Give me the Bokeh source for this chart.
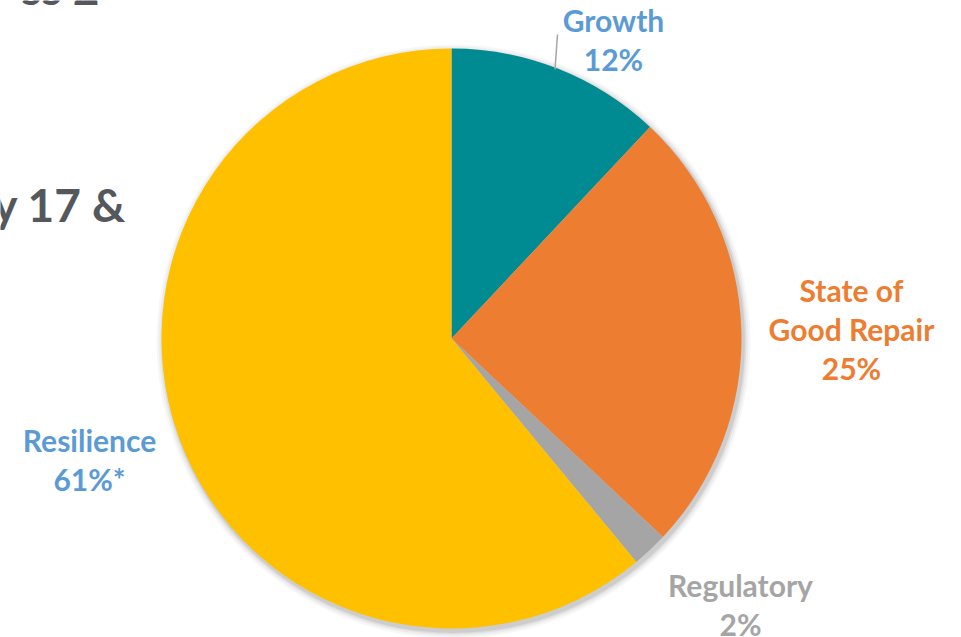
import math
from bokeh.plotting import figure
from bokeh.models import Range1d
from bokeh.core.properties import value
from bokeh.embed import file_html
from bokeh.resources import INLINE

# ---- data ----
categories = ["Growth", "State of\nGood Repair", "Regulatory", "Resilience"]
percents = [12, 25, 2, 61]
pct_labels = ["12%", "25%", "2%", "61%*"]
slice_colors = ["#008A92", "#ED7D31", "#A5A5A5", "#FFC000"]
label_colors = ["#5B9BD5", "#ED7D31", "#A5A5A5", "#5B9BD5"]

# ---- layout (pixels from top-left) ----
W, H = 961, 637
cx, cy, R = 451, 338, 290
label_pos = [(613, 39), (851, 328), (740, 604), (89, 459)]
line_gap = 39

def Y(py):
    return H - py

p = figure(width=W, height=H, output_backend="svg", toolbar_location=None,
           x_range=Range1d(0, W), y_range=Range1d(0, H),
           min_border=0, outline_line_color=None)
p.axis.visible = False
p.grid.visible = False
p.background_fill_color = "white"
p.border_fill_color = "white"

# soft shadow
for dr, a in [(7, 0.03), (5, 0.04), (3, 0.06), (1.5, 0.08)]:
    p.circle(x=[cx + 2], y=[Y(cy + 3)], radius=R + dr, fill_color="black",
             fill_alpha=a, line_color=None)

total = sum(percents)
cum = 0.0
starts, ends = [], []
for v in percents:
    s = math.pi / 2 - 2 * math.pi * cum / total
    cum += v
    e = math.pi / 2 - 2 * math.pi * cum / total
    starts.append(s)
    ends.append(e)

p.wedge(x=[cx] * len(percents), y=[Y(cy)] * len(percents), radius=R,
        start_angle=starts, end_angle=ends, direction="clock",
        fill_color=slice_colors, line_color=None)

# leader line for Growth
p.segment(x0=[557], y0=[Y(34)], x1=[554.5], y1=[Y(69)], line_color="#A6A6A6", line_width=1.5)

# labels
for cat, pl, col, (lx, ly) in zip(categories, pct_labels, label_colors, label_pos):
    lines = cat.split("\n") + [pl]
    n = len(lines)
    for i, t in enumerate(lines):
        yy = ly + (i - (n - 1) / 2) * line_gap
        p.text(x=[lx], y=[Y(yy)], text=[t], text_align="center", text_baseline="middle",
               text_font=value("Lato"), text_font_style="bold", text_font_size="30px",
               text_color=col)

# clipped slide title fragments
p.text(x=[126], y=[Y(204)], text=["y 17 &"], text_align="right", text_baseline="alphabetic",
       text_font=value("Lato"), text_font_style="bold", text_font_size="46px", text_color="#54575C")
p.text(x=[99], y=[Y(3)], text=["ss 2"], text_align="right", text_baseline="top",
       y_offset=-44,
       text_font=value("Lato"), text_font_style="bold", text_font_size="46px", text_color="#54575C")

open("out.html", "w").write(file_html(p, INLINE))
